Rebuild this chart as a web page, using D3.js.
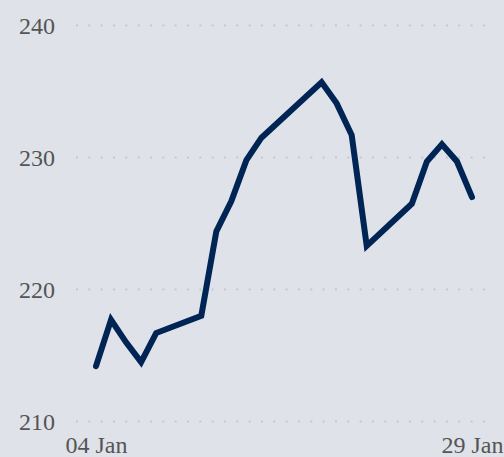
<!DOCTYPE html>
<html>
<head>
<meta charset="utf-8">
<script src="https://cdn.jsdelivr.net/npm/d3@7"></script>
<style>
  html, body { margin: 0; padding: 0; background: #dfe2e8; overflow: hidden; }
  svg { display: block; }
</style>
</head>
<body>
<script>
// Daily closing prices, January 2021 (trading days only).
var dates = ["2021-01-04", "2021-01-05", "2021-01-06", "2021-01-07", "2021-01-08",
             "2021-01-11", "2021-01-12", "2021-01-13", "2021-01-14", "2021-01-15",
             "2021-01-19", "2021-01-20", "2021-01-21", "2021-01-22",
             "2021-01-25", "2021-01-26", "2021-01-27", "2021-01-28", "2021-01-29"];
var prices = [214.2, 217.7, 216.0, 214.5, 216.7,
              218.0, 224.4, 226.7, 229.8, 231.5,
              235.7, 234.1, 231.7, 223.3,
              226.5, 229.7, 231.0, 229.7, 227.0];
var yTicks = [210, 220, 230, 240];
var xTickLabels = ["2021-01-04", "2021-01-29"];

var width = 504, height = 457;
var parse = d3.timeParse("%Y-%m-%d");
var data = dates.map((d, i) => ({ date: parse(d), value: prices[i] }));

var svg = d3.select("body").append("svg")
    .attr("width", width)
    .attr("height", height);

// Scales: time on x, price on y.
var x = d3.scaleTime()
    .domain([parse(dates[0]), parse(dates[dates.length - 1])])
    .range([96, 472]);

var y = d3.scaleLinear()
    .domain([210, 240])
    .range([421.5, 25.5]);

// Dotted horizontal gridlines.
svg.append("g")
    .selectAll("line")
    .data(yTicks)
    .join("line")
    .attr("x1", 76)
    .attr("x2", 492)
    .attr("y1", d => y(d))
    .attr("y2", d => y(d))
    .attr("stroke", "#c6c8cc")
    .attr("stroke-width", 2)
    .attr("stroke-dasharray", "2,10.33");

// Y axis labels on the left.
var yAxis = svg.append("g")
    .attr("transform", "translate(55,0)")
    .call(d3.axisLeft(y).tickValues(yTicks).tickSize(0).tickPadding(0));
yAxis.select(".domain").remove();
yAxis.selectAll(".tick text")
    .attr("font-family", "Liberation Serif")
    .attr("font-size", 24)
    .attr("fill", "#555")
    .attr("dy", "0.33em");

// X axis labels: first and last day only.
var xAxis = svg.append("g")
    .attr("transform", "translate(0,436)")
    .call(d3.axisBottom(x)
        .tickValues(xTickLabels.map(parse))
        .tickFormat(d3.timeFormat("%d %b"))
        .tickSize(0)
        .tickPadding(0));
xAxis.select(".domain").remove();
xAxis.selectAll(".tick text")
    .attr("font-family", "Liberation Serif")
    .attr("font-size", 24)
    .attr("fill", "#555")
    .attr("dy", "0.7em");

// Price line.
var line = d3.line()
    .x(d => x(d.date))
    .y(d => y(d.value));

svg.append("path")
    .datum(data)
    .attr("fill", "none")
    .attr("stroke", "#002454")
    .attr("stroke-width", 6)
    .attr("stroke-linecap", "round")
    .attr("stroke-linejoin", "miter")
    .attr("d", line);
</script>
</body>
</html>
